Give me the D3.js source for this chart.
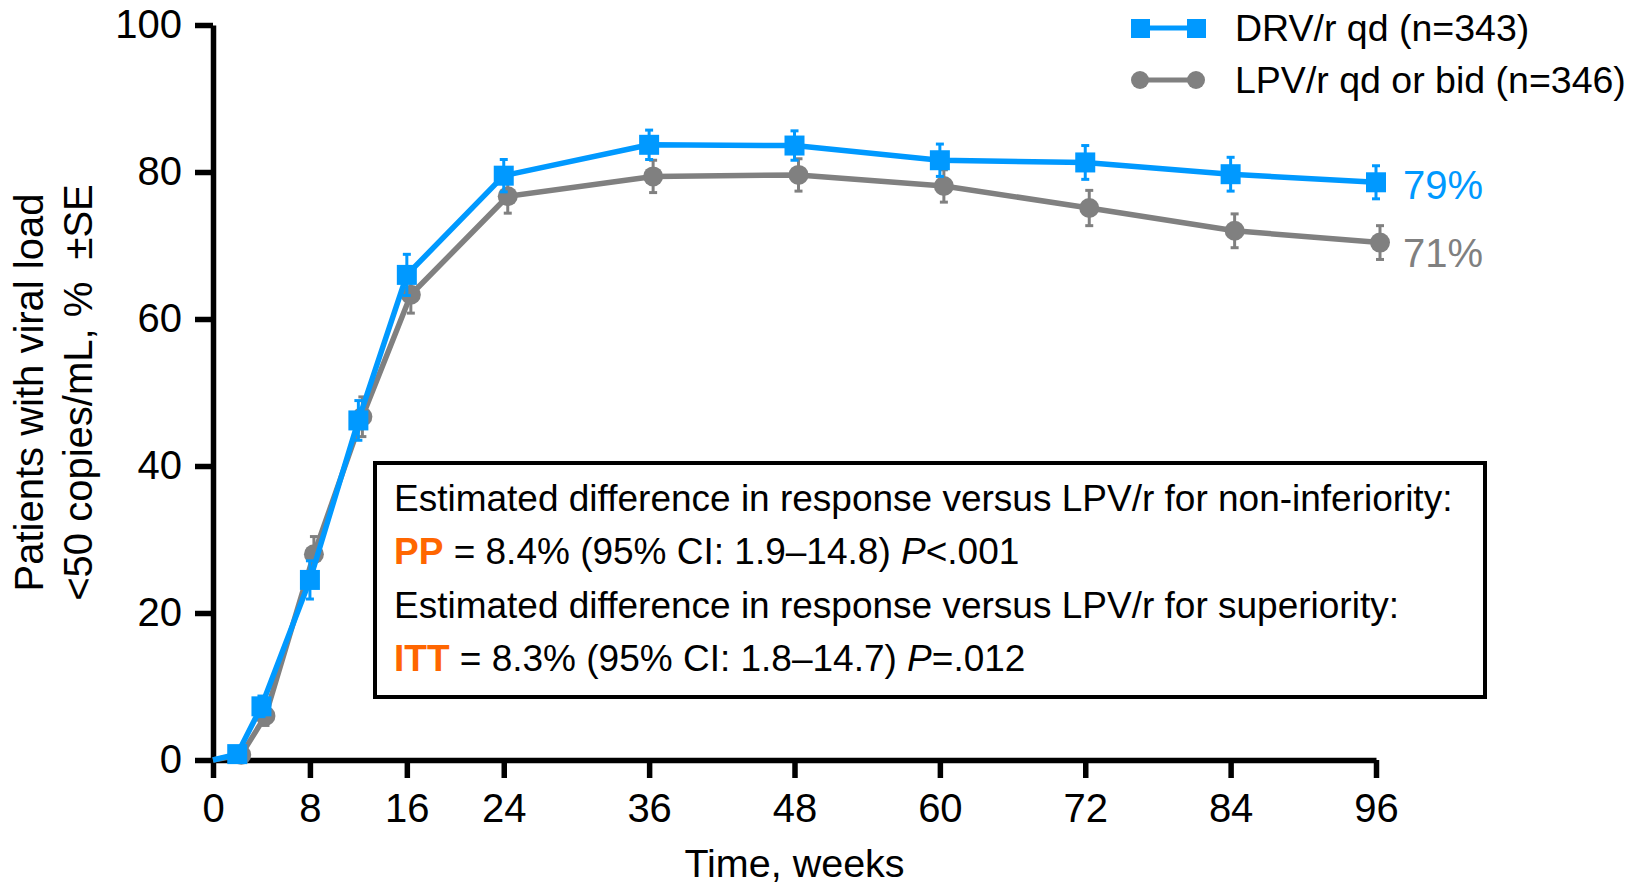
<!DOCTYPE html>
<html>
<head>
<meta charset="utf-8">
<script src="https://cdn.jsdelivr.net/npm/d3@7"></script>
<style>
  body { margin: 0; background: #fff; }
  svg text { font-family: "Liberation Sans", Arial, Helvetica, sans-serif; }
</style>
</head>
<body>
<script>
var w = 1640;
var h = 884;

// weeks on study (week 0 only anchors the line, no marker)
var weeks = [0, 2, 4, 8, 12, 16, 24, 36, 48, 60, 72, 84, 96];
var drvPct = [0, 0.8, 7.3, 24.5, 46.2, 66.0, 79.5, 83.7, 83.6, 81.6, 81.3, 79.7, 78.6];
var drvSE  = [0, 0.5, 1.4, 2.6, 2.7, 2.8, 2.2, 2.0, 2.0, 2.2, 2.3, 2.3, 2.25];
var lpvPct = [0, 0.7, 6.0, 28.0, 46.7, 63.3, 76.7, 79.4, 79.6, 78.1, 75.1, 72.0, 70.4];
var lpvSE  = [0, 0.4, 1.3, 2.4, 2.7, 2.5, 2.3, 2.2, 2.2, 2.2, 2.4, 2.3, 2.3];

var xTicks = [0, 8, 16, 24, 36, 48, 60, 72, 84, 96];
var yTicks = [0, 20, 40, 60, 80, 100];
var legendLabels = ["DRV/r qd (n=343)", "LPV/r qd or bid (n=346)"];
var endLabels = ["79%", "71%"];

var blue = "#0099ff";
var grey = "#808080";
var orange = "#ff6600";

var xScale = d3.scaleLinear().domain([0, 96]).range([213, 1376]);
var yScale = d3.scaleLinear().domain([0, 100]).range([760, 25]);

var svg = d3.select("body")
            .append("svg")
            .attr("width", w)
            .attr("height", h);

// axes
var yAxis = svg.append("g")
               .attr("transform", "translate(" + xScale(0) + ",0)")
               .call(d3.axisLeft(yScale).tickValues(yTicks).tickSize(18).tickSizeOuter(0).tickPadding(13));

var xAxis = svg.append("g")
               .attr("transform", "translate(0," + yScale(0) + ")")
               .call(d3.axisBottom(xScale).tickValues(xTicks).tickSize(18).tickSizeOuter(0).tickPadding(16));

[yAxis, xAxis].forEach(function(g) {
  g.select(".domain").attr("stroke", "#000").attr("stroke-width", 5.5);
  g.selectAll(".tick line").attr("stroke", "#000").attr("stroke-width", 5.5);
  g.selectAll(".tick text").attr("fill", "#000").style("font-size", "40px");
});

svg.append("text")
   .attr("x", (xScale(0) + xScale(96)) / 2)
   .attr("y", 877)
   .attr("text-anchor", "middle")
   .style("font-size", "39.5px")
   .text("Time, weeks");

var yMid = (yScale(0) + yScale(100)) / 2;
svg.append("text")
   .attr("transform", "translate(43," + yMid + ") rotate(-90)")
   .attr("text-anchor", "middle")
   .style("font-size", "40px")
   .text("Patients with viral load");
svg.append("text")
   .attr("transform", "translate(92," + yMid + ") rotate(-90)")
   .attr("text-anchor", "middle")
   .style("font-size", "40px")
   .text("<50 copies/mL, %\u00a0 ±SE");

// series
var series = [
  { pct: lpvPct, se: lpvSE, color: grey, shape: "circle", dx: 4 },
  { pct: drvPct, se: drvSE, color: blue, shape: "square", dx: 0 }
];

series.forEach(function(s) {
  var pts = weeks.map(function(wk, i) {
    return { wk: wk, v: s.pct[i], se: s.se[i] };
  });
  var g = svg.append("g");
  var line = d3.line()
               .x(function(d) { return xScale(d.wk) + (d.wk > 0 ? s.dx : 0); })
               .y(function(d) { return yScale(d.v); });

  g.append("path")
   .datum(pts)
   .attr("d", line)
   .attr("fill", "none")
   .attr("stroke", s.color)
   .attr("stroke-width", 5.5)
   .attr("stroke-linejoin", "round");

  var marked = pts.filter(function(d) { return d.wk > 0; });

  var bars = g.selectAll(".err")
              .data(marked)
              .enter()
              .append("g")
              .attr("stroke", s.color)
              .attr("stroke-width", 3);
  bars.append("line")
      .attr("x1", function(d) { return xScale(d.wk) + s.dx; })
      .attr("x2", function(d) { return xScale(d.wk) + s.dx; })
      .attr("y1", function(d) { return yScale(d.v + d.se); })
      .attr("y2", function(d) { return yScale(d.v - d.se); });
  bars.append("line")
      .attr("x1", function(d) { return xScale(d.wk) + s.dx - 4; })
      .attr("x2", function(d) { return xScale(d.wk) + s.dx + 4; })
      .attr("y1", function(d) { return yScale(d.v + d.se); })
      .attr("y2", function(d) { return yScale(d.v + d.se); });
  bars.append("line")
      .attr("x1", function(d) { return xScale(d.wk) + s.dx - 4; })
      .attr("x2", function(d) { return xScale(d.wk) + s.dx + 4; })
      .attr("y1", function(d) { return yScale(d.v - d.se); })
      .attr("y2", function(d) { return yScale(d.v - d.se); });

  if (s.shape === "square") {
    g.selectAll(".mk")
     .data(marked)
     .enter()
     .append("rect")
     .attr("x", function(d) { return xScale(d.wk) + s.dx - 10; })
     .attr("y", function(d) { return yScale(d.v) - 10; })
     .attr("width", 20)
     .attr("height", 20)
     .attr("fill", s.color);
  } else {
    g.selectAll(".mk")
     .data(marked)
     .enter()
     .append("circle")
     .attr("cx", function(d) { return xScale(d.wk) + s.dx; })
     .attr("cy", function(d) { return yScale(d.v); })
     .attr("r", 10)
     .attr("fill", s.color);
  }
});

// end labels
svg.append("text")
   .attr("x", 1403).attr("y", 199)
   .attr("fill", blue)
   .style("font-size", "40px")
   .text(endLabels[0]);
svg.append("text")
   .attr("x", 1403).attr("y", 267)
   .attr("fill", grey)
   .style("font-size", "40px")
   .text(endLabels[1]);

// legend
var leg = svg.append("g");
[{ y: 28, color: blue, shape: "square" }, { y: 80, color: grey, shape: "circle" }].forEach(function(l, i) {
  leg.append("line")
     .attr("x1", 1140).attr("x2", 1196)
     .attr("y1", l.y).attr("y2", l.y)
     .attr("stroke", l.color).attr("stroke-width", 5);
  [1140, 1196].forEach(function(cx) {
    if (l.shape === "square") {
      leg.append("rect").attr("x", cx - 9).attr("y", l.y - 9).attr("width", 19).attr("height", 19).attr("fill", l.color);
    } else {
      leg.append("circle").attr("cx", cx).attr("cy", l.y).attr("r", 9).attr("fill", l.color);
    }
  });
  leg.append("text")
     .attr("x", 1235).attr("y", l.y + 13)
     .style("font-size", "37.5px")
     .text(legendLabels[i]);
});

// annotation box
svg.append("rect")
   .attr("x", 375).attr("y", 463)
   .attr("width", 1110).attr("height", 234)
   .attr("fill", "#fff")
   .attr("stroke", "#000")
   .attr("stroke-width", 4);

var boxLines = [
  [{ t: "Estimated difference in response versus LPV/r for non-inferiority:" }],
  [{ t: "PP", c: orange, b: true }, { t: " = 8.4% (95% CI: 1.9\u201314.8) " }, { t: "P", i: true }, { t: "<.001" }],
  [{ t: "Estimated difference in response versus LPV/r for superiority:" }],
  [{ t: "ITT", c: orange, b: true }, { t: " = 8.3% (95% CI: 1.8\u201314.7) " }, { t: "P", i: true }, { t: "=.012" }]
];
var boxBase = [511, 564, 618, 671];

boxLines.forEach(function(parts, i) {
  var t = svg.append("text")
             .attr("x", 394)
             .attr("y", boxBase[i])
             .attr("xml:space", "preserve")
             .style("font-size", "37px")
             .style("white-space", "pre");
  parts.forEach(function(p) {
    t.append("tspan")
     .attr("fill", p.c || "#000")
     .style("font-weight", p.b ? "bold" : "normal")
     .style("font-style", p.i ? "italic" : "normal")
     .text(p.t);
  });
});
</script>
</body>
</html>
